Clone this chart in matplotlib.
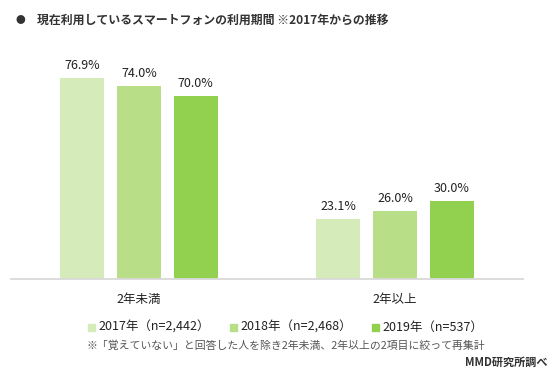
import numpy as np
import matplotlib
matplotlib.use("Agg")
import matplotlib.pyplot as plt

plt.rcParams['font.family'] = ['Noto Sans CJK JP', 'DejaVu Sans']

categories = ["2年未満", "2年以上"]
series = ["2017年（n=2,442）", "2018年（n=2,468）", "2019年（n=537）"]
v2017 = [76.9, 23.1]
v2018 = [74.0, 26.0]
v2019 = [70.0, 30.0]
colors = ["#D5ECBA", "#B8DE88", "#92D050"]

W, H = 555, 369
fig = plt.figure(figsize=(W / 100, H / 100), dpi=100)
ax = fig.add_axes([11 / W, (H - 279) / H, 512 / W, 239 / H])

x = np.arange(len(categories))
width = 0.172
step = 0.221
for k, (vals, c) in enumerate(zip([v2017, v2018, v2019], colors)):
    pos = x + (k - 1) * step
    ax.bar(pos, vals, width=width, color=c, zorder=2)
    for p, v in zip(pos, vals):
        ax.text(p, v + 2.3, f"{v:.1f}%", ha="center", va="bottom", fontsize=9, color="#222222")

ax.set_xlim(-0.5, 1.5)
ax.set_ylim(0, 91.5)
for s in ["top", "right", "left"]:
    ax.spines[s].set_visible(False)
ax.spines["bottom"].set_color("#D9D9D9")
ax.spines["bottom"].set_linewidth(1.3)
ax.set_yticks([])
ax.set_xticks(x)
ax.set_xticklabels(categories, fontsize=9, color="#222222")
ax.tick_params(axis="x", length=0, pad=10)

# title
fig.text(16 / W, 1 - 20 / H, "●", fontsize=7, color="#333333", ha="left", va="center")
fig.text(37 / W, 1 - 20 / H, "現在利用しているスマートフォンの利用期間 ※2017年からの推移",
         fontsize=8.6, fontweight="bold", color="#333333", ha="left", va="center")

# legend
leg_x = [88, 230, 372]
for lx, lab, c in zip(leg_x, series, colors):
    fig.patches.append(plt.Rectangle((lx / W, 1 - 331 / H), 7 / W, 7 / H,
                                     transform=fig.transFigure, color=c, figure=fig))
    fig.text((lx + 10) / W, 1 - 327 / H, lab, fontsize=9, color="#222222", ha="left", va="center")

fig.text(87 / W, 1 - 346 / H, "※「覚えていない」と回答した人を除き2年未満、2年以上の2項目に絞って再集計",
         fontsize=7.8, color="#555555", ha="left", va="center")
fig.text(548 / W, 1 - 362 / H, "MMD研究所調べ", fontsize=8, fontweight="bold",
         color="#333333", ha="right", va="center")

fig.savefig("out.png", dpi=100)
